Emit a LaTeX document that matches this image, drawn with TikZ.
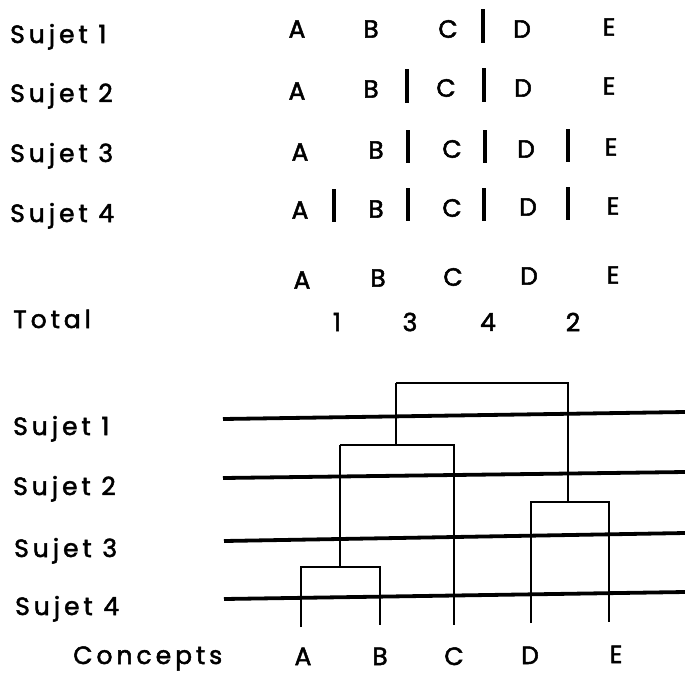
\documentclass[tikz,border=0pt]{standalone}
\usepackage{fontspec}
\setmainfont[LetterSpace=16, FakeBold=2]{Poppins}
\begin{document}
\begin{tikzpicture}[x=1pt,y=-1pt,
  txt/.style={font=\fontsize{25}{29}\selectfont, inner sep=0pt},
  lbl/.style={txt, anchor=base west},
  let/.style={txt, anchor=center},
  sep/.style={line width=4pt},
  subjline/.style={line width=3.8pt},
  dend/.style={line width=1.8pt}]
\useasboundingbox (0,0) rectangle (685,673);
\clip (0,0) rectangle (685,673);
\fill[white] (0,0) rectangle (685,673);
% ---------- top part ----------
\node[lbl] (s1) at (10,43) {Sujet 1};
\node[lbl] (s2) at (10,102) {Sujet 2};
\node[lbl] (s3) at (10,162) {Sujet 3};
\node[lbl] (s4) at (10,222) {Sujet 4};
% row 1
\node[let] (r1A) at (297,29) {A};
\node[let] (r1B) at (371,29) {B};
\node[let] (r1C) at (448,29) {C};
\node[let] (r1D) at (522,29) {D};
\node[let] (r1E) at (609,27) {E};
\draw[sep] (483,9) -- (483,43);
% row 2
\node[let] (r2A) at (297,91) {A};
\node[let] (r2B) at (371,89) {B};
\node[let] (r2C) at (446,88) {C};
\node[let] (r2D) at (523,88) {D};
\node[let] (r2E) at (609,86) {E};
\draw[sep] (407,69) -- (407,103);
\draw[sep] (484,68) -- (484,102);
% row 3
\node[let] (r3A) at (300,152) {A};
\node[let] (r3B) at (376,150) {B};
\node[let] (r3C) at (452,149) {C};
\node[let] (r3D) at (526,149) {D};
\node[let] (r3E) at (611,147) {E};
\draw[sep] (408,130) -- (408,163);
\draw[sep] (485,130) -- (485,163);
\draw[sep] (568,129) -- (568,162);
% row 4
\node[let] (r4A) at (300,210) {A};
\node[let] (r4B) at (376,209) {B};
\node[let] (r4C) at (452,208) {C};
\node[let] (r4D) at (528,207) {D};
\node[let] (r4E) at (613,206) {E};
\draw[sep] (334,189) -- (334,222);
\draw[sep] (408,188) -- (408,221);
\draw[sep] (484,188) -- (484,221);
\draw[sep] (568,187) -- (568,220);
% total
\node[let] (tA) at (302,280) {A};
\node[let] (tB) at (378,278) {B};
\node[let] (tC) at (453,277) {C};
\node[let] (tD) at (529,276) {D};
\node[let] (tE) at (613,275) {E};
\node[lbl] (tot) at (13,328) {Total};
\node[let] (n1) at (337,322) {1};
\node[let] (n3) at (410,322) {3};
\node[let] (n4) at (488,322) {4};
\node[let] (n2) at (573,322) {2};
% ---------- bottom part ----------
\node[lbl] (b1) at (13,435) {Sujet 1};
\node[lbl] (b2) at (13,495) {Sujet 2};
\node[lbl] (b3) at (14,557) {Sujet 3};
\node[lbl] (b4) at (15,615) {Sujet 4};
\draw[subjline] (223,419) -- (685,412);
\draw[subjline] (223,478) -- (685,472);
\draw[subjline] (224,541) -- (685,533);
\draw[subjline] (224,599) -- (685,592);
% leaves
\coordinate (lA) at (301,627);
\coordinate (lB) at (380,625);
\coordinate (lC) at (454,625);
\coordinate (lD) at (531,623);
\coordinate (lE) at (609,622);
% merges
\coordinate (mAB) at (340,567);
\coordinate (mABC) at (396,445);
\coordinate (mDE) at (568,502);
\draw[dend] (lA) |- (mAB) -| (lB);
\draw[dend] (mAB) -- (340,445) coordinate (abcL);
\draw[dend] (abcL) -- (mABC) -| (lC);
\draw[dend] (lD) |- (mDE) -| (lE);
\draw[dend] (mABC) -- (396,383) coordinate (topL);
\draw[dend] (topL) -| (mDE);
% concept labels
\node[lbl] (conc) at (73,664) {Concepts};
\node[txt, anchor=base] (cA) at (303,665) {A};
\node[txt, anchor=base] (cB) at (380,665) {B};
\node[txt, anchor=base] (cC) at (454,665) {C};
\node[txt, anchor=base] (cD) at (530,664) {D};
\node[txt, anchor=base] (cE) at (616,663) {E};
\end{tikzpicture}
\end{document}
